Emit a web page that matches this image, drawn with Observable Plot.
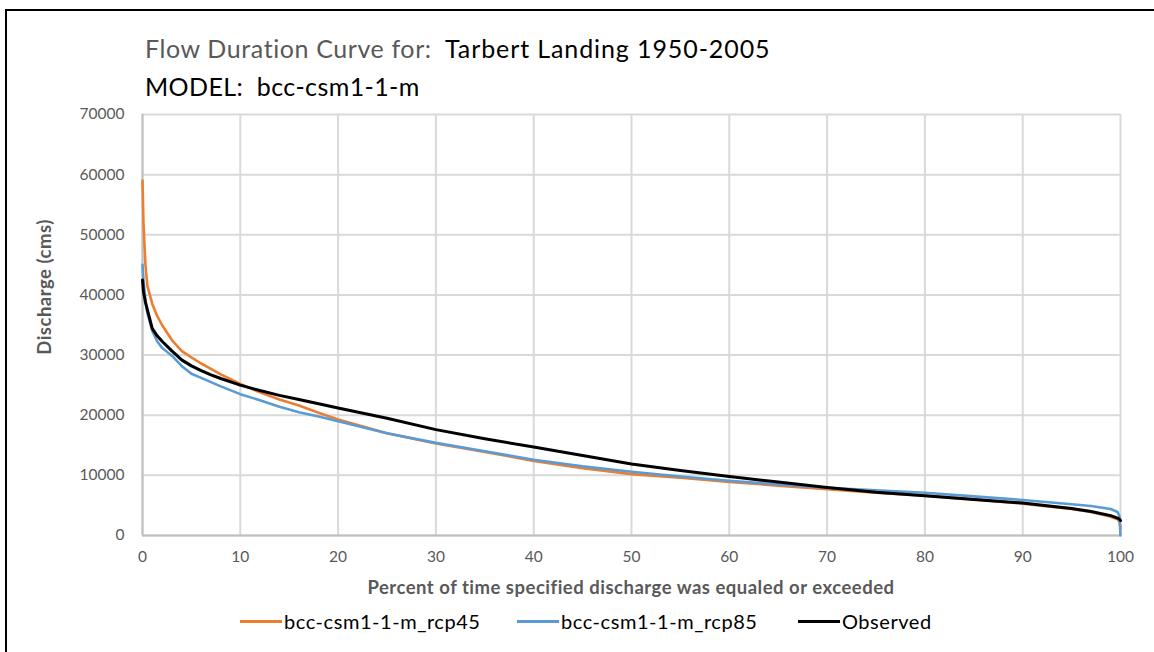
<!DOCTYPE html>
<html>
<head>
<meta charset="utf-8">
<script src="https://cdn.jsdelivr.net/npm/d3@7"></script>
<script src="https://cdn.jsdelivr.net/npm/@observablehq/plot@0.6"></script>
<style>
  html, body { margin: 0; padding: 0; background: #fff; }
  body { width: 1154px; height: 652px; position: relative; overflow: hidden; font-family: Lato, "Open Sans", sans-serif; }
  #frame { position: absolute; left: 5px; top: 9px; width: 1160px; height: 660px; border: 2px solid #000; box-sizing: border-box; }
  .abs { position: absolute; white-space: nowrap; }
  #t1 { left: 145px; top: 33px; font-size: 25px; letter-spacing: 0.6px; color: #595959; }
  #t1b { left: 445px; top: 33px; font-size: 25px; letter-spacing: 0.9px; color: #000; }
  #t2 { left: 145px; top: 71px; font-size: 25px; letter-spacing: 0.4px; color: #000; }
  #xt { left: 142px; width: 978px; top: 576px; text-align: center; font-size: 18.5px; letter-spacing: 0.5px; font-weight: bold; color: #595959; }
  #yt { left: 44px; top: 287px; transform: translate(-50%, -50%) rotate(-90deg); font-size: 18.5px; letter-spacing: 0.5px; font-weight: bold; color: #595959; }
  .leg { top: 609px; font-size: 20px; letter-spacing: 0.55px; color: #000; display: flex; align-items: center; }
  .leg .sw { display: inline-block; width: 42px; height: 3px; margin-right: 2px; }
  #chart { position: absolute; left: 0; top: 100px; }
</style>
</head>
<body>
<div id="frame"></div>
<div class="abs" id="t1">Flow Duration Curve for:</div>
<div class="abs" id="t1b">Tarbert Landing 1950-2005</div>
<div class="abs" id="t2">MODEL:&nbsp; bcc-csm1-1-m</div>
<div id="chart"></div>
<div class="abs" id="yt">Discharge (cms)</div>
<div class="abs" id="xt">Percent of time specified discharge was equaled or exceeded</div>
<div class="abs leg" style="left:240px"><span class="sw" style="background:#ED7D31"></span>bcc-csm1-1-m_rcp45</div>
<div class="abs leg" style="left:517px"><span class="sw" style="background:#5B9BD5"></span>bcc-csm1-1-m_rcp85</div>
<div class="abs leg" style="left:798px"><span class="sw" style="background:#000"></span>Observed</div>
<script>
// Exceedance percent (shared by all series)
const percent = [0, 0.1, 0.3, 0.5, 1, 1.5, 2, 3, 4, 5, 6, 7, 8, 10, 12, 14, 16, 18, 20, 25, 30, 35, 40, 45, 50, 55, 60, 65, 70, 75, 80, 85, 90, 95, 97, 99, 99.7, 99.9, 100];
// Discharge (cms)
const rcp45 = [59000, 52000, 45000, 41500, 38500, 36500, 35000, 32500, 30700, 29600, 28600, 27700, 26800, 25200, 23800, 22600, 21600, 20400, 19300, 17000, 15300, 13900, 12400, 11200, 10200, 9600, 8900, 8300, 7700, 7100, 6600, 6000, 5300, 4400, 3900, 3100, 2700, 2300, 1200];
const rcp85 = [45000, 42500, 39000, 37000, 34000, 32300, 31200, 29900, 28200, 26900, 26200, 25500, 24800, 23500, 22500, 21400, 20500, 19800, 19000, 17000, 15400, 14000, 12600, 11500, 10600, 9800, 9100, 8500, 7950, 7500, 7100, 6500, 5900, 5200, 4900, 4400, 3900, 3200, 0];
const observed = [42500, 40500, 38800, 37500, 34400, 33200, 32300, 30700, 29200, 28200, 27400, 26700, 26100, 25000, 24100, 23300, 22600, 21900, 21200, 19500, 17600, 16100, 14700, 13300, 11900, 10800, 9800, 8900, 8000, 7200, 6600, 6000, 5400, 4500, 4000, 3300, 2900, 2700, 2500];
const seriesNames = ["bcc-csm1-1-m_rcp45", "bcc-csm1-1-m_rcp85", "Observed"];
const seriesColors = ["#ED7D31", "#5B9BD5", "#000000"];
const xTicks = [0, 10, 20, 30, 40, 50, 60, 70, 80, 90, 100];
const yTicks = [0, 10000, 20000, 30000, 40000, 50000, 60000, 70000];

const seriesValues = [rcp45, rcp85, observed];
const data = seriesNames.flatMap((name, i) => percent.map((p, j) => ({series: name, pct: p, q: seriesValues[i][j]})));

const chart = Plot.plot({
  width: 1154,
  height: 500,
  marginLeft: 142,
  marginRight: 34,
  marginTop: 14,
  marginBottom: 65,
  style: {fontFamily: "Lato, 'Open Sans', sans-serif", fontSize: "15.5px", color: "#595959", background: "transparent"},
  x: {domain: [0, 100], ticks: xTicks, tickSize: 0, tickPadding: 14, label: null},
  y: {domain: [0, 70000], ticks: yTicks, tickSize: 0, tickPadding: 18, tickFormat: d => String(d), label: null},
  color: {domain: seriesNames, range: seriesColors},
  marks: [
    Plot.gridX(xTicks, {stroke: "#d9d9d9", strokeOpacity: 1, strokeWidth: 2}),
    Plot.gridY(yTicks, {stroke: "#d9d9d9", strokeOpacity: 1, strokeWidth: 2}),
    Plot.ruleX([0], {stroke: "#bfbfbf", strokeWidth: 2}),
    Plot.ruleY([0], {stroke: "#bfbfbf", strokeWidth: 2}),
    Plot.line(data, {x: "pct", y: "q", z: "series", stroke: "series", strokeWidth: d => d.series === "Observed" ? 3 : 2.6, curve: "linear"}),
    Plot.axisX({ticks: xTicks, tickSize: 0, tickPadding: 15, label: null, fill: "#595959"}),
    Plot.axisY({ticks: yTicks, tickSize: 0, tickPadding: 18, tickFormat: d => String(d), label: null, fill: "#595959"})
  ]
});
document.getElementById("chart").appendChild(chart);
</script>
</body>
</html>
